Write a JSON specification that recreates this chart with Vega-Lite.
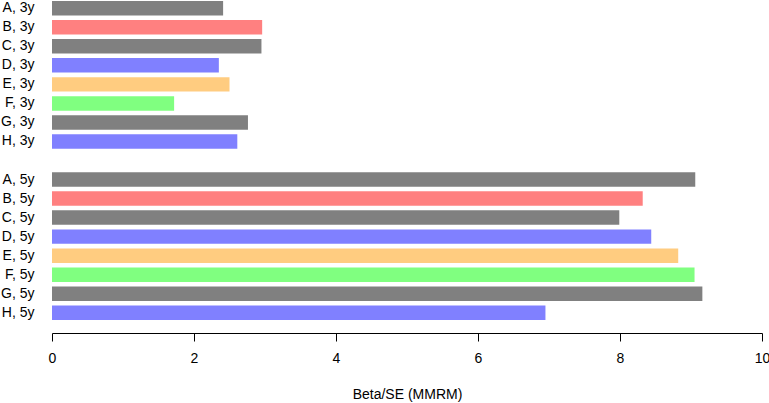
{
  "$schema": "https://vega.github.io/schema/vega-lite/v6.json",
  "width": 710,
  "height": 319,
  "autosize": "none",
  "padding": {"left": 52, "top": 1, "right": 7, "bottom": 83},
  "background": "white",
  "config": {
    "view": {"stroke": null},
    "font": "Liberation Sans"
  },
  "data": {
    "values": [
      {"label": "A, 3y", "group": "A", "value": 2.41},
      {"label": "B, 3y", "group": "B", "value": 2.96},
      {"label": "C, 3y", "group": "C", "value": 2.95},
      {"label": "D, 3y", "group": "D", "value": 2.35},
      {"label": "E, 3y", "group": "E", "value": 2.50},
      {"label": "F, 3y", "group": "F", "value": 1.72},
      {"label": "G, 3y", "group": "G", "value": 2.76},
      {"label": "H, 3y", "group": "H", "value": 2.61},
      {"label": "A, 5y", "group": "A", "value": 9.06},
      {"label": "B, 5y", "group": "B", "value": 8.32},
      {"label": "C, 5y", "group": "C", "value": 7.99},
      {"label": "D, 5y", "group": "D", "value": 8.44},
      {"label": "E, 5y", "group": "E", "value": 8.82},
      {"label": "F, 5y", "group": "F", "value": 9.05},
      {"label": "G, 5y", "group": "G", "value": 9.16},
      {"label": "H, 5y", "group": "H", "value": 6.95}
    ]
  },
  "mark": {"type": "bar"},
  "encoding": {
    "y": {
      "field": "label",
      "type": "nominal",
      "scale": {
        "domain": ["A, 3y","B, 3y","C, 3y","D, 3y","E, 3y","F, 3y","G, 3y","H, 3y","gap","A, 5y","B, 5y","C, 5y","D, 5y","E, 5y","F, 5y","G, 5y","H, 5y"],
        "paddingInner": 0.24,
        "paddingOuter": 0
      },
      "axis": {
        "title": null,
        "domain": false,
        "ticks": false,
        "tickSize": 0,
        "labelPadding": 18,
        "labelFontSize": 14,
        "labelColor": "black",
        "labelExpr": "datum.value == 'gap' ? '' : datum.value"
      }
    },
    "x": {
      "field": "value",
      "type": "quantitative",
      "scale": {"domain": [0, 10], "nice": false},
      "axis": {
        "title": "Beta/SE (MMRM)",
        "titleFontSize": 14,
        "titleFontWeight": "normal",
        "titleColor": "black",
        "titlePadding": 22,
        "values": [0, 2, 4, 6, 8, 10],
        "grid": false,
        "offset": 13,
        "tickSize": 8,
        "tickColor": "black",
        "domainColor": "black",
        "labelFontSize": 14,
        "labelColor": "black",
        "labelPadding": 10,
        "labelFlush": false
      }
    },
    "color": {
      "field": "group",
      "type": "nominal",
      "scale": {
        "domain": ["A","B","C","D","E","F","G","H"],
        "range": ["#808080","#FF8080","#808080","#8080FF","#FFCC80","#80FF80","#808080","#8080FF"]
      },
      "legend": null
    }
  }
}
